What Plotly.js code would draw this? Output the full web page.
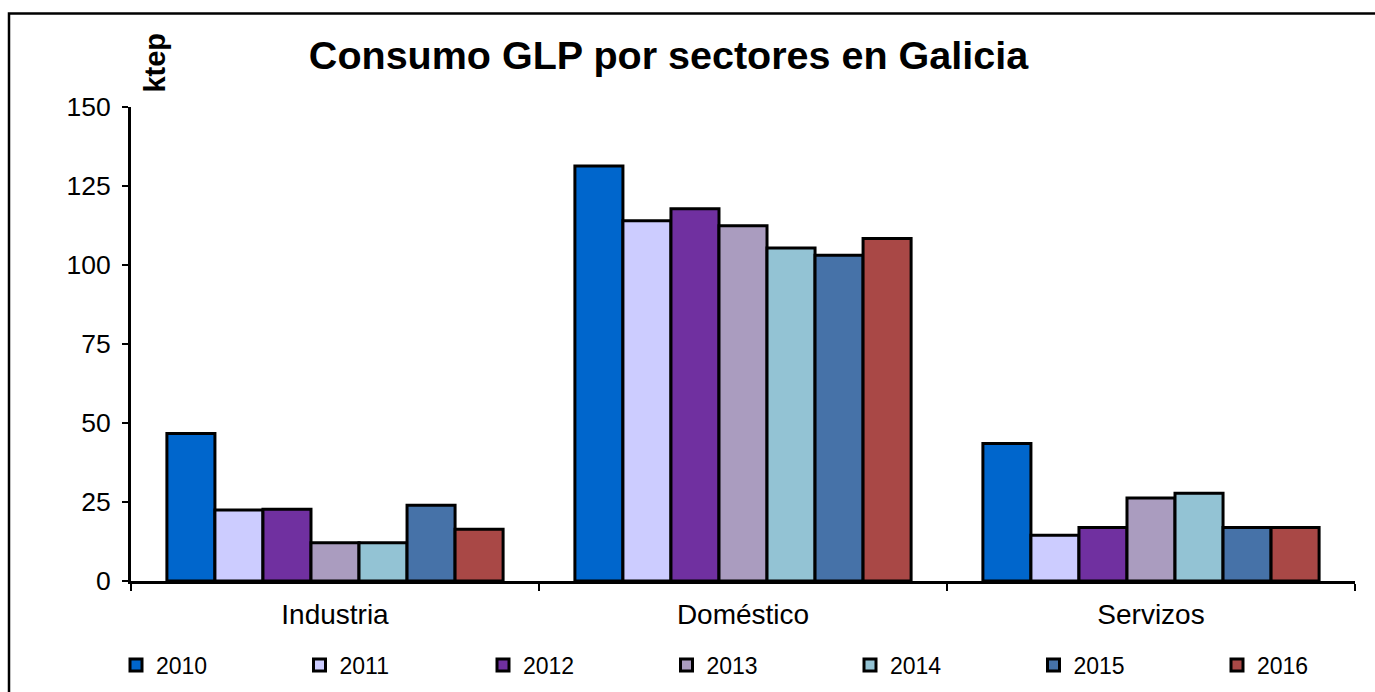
<!DOCTYPE html>
<html>
<head>
<meta charset="utf-8">
<script src="https://cdn.plot.ly/plotly-3.0.1.min.js"></script>
<style>
  html, body { margin: 0; padding: 0; background: #ffffff; }
  #chart { width: 1375px; height: 692px; }
</style>
</head>
<body>
<div id="chart"></div>
<script>
// ---- Data (ktep) ----
const categories = ['Industria', 'Doméstico', 'Servizos'];
const years = ['2010', '2011', '2012', '2013', '2014', '2015', '2016'];
const v2010 = [46.7, 131.3, 43.5];
const v2011 = [22.5, 114.0, 14.5];
const v2012 = [22.7, 117.8, 16.9];
const v2013 = [12.1, 112.4, 26.3];
const v2014 = [12.1, 105.4, 27.8];
const v2015 = [24.0, 103.1, 16.9];
const v2016 = [16.4, 108.4, 16.9];
const seriesValues = [v2010, v2011, v2012, v2013, v2014, v2015, v2016];
const yTicks = [0, 25, 50, 75, 100, 125, 150];

// ---- Styles ----
const colors = ['#0066CC', '#CCCCFF', '#7030A0', '#AA9CBF', '#93C3D4', '#4672A8', '#A94846'];
const FONT = 'Liberation Sans, Arial, Helvetica, sans-serif';

const traces = years.map((yr, i) => ({
  type: 'bar',
  name: yr,
  x: categories,
  y: seriesValues[i],
  marker: { color: colors[i], line: { color: '#000000', width: 3 } },
  legend: i === 0 ? 'legend' : 'legend' + (i + 1),
  hoverinfo: 'x+y+name'
}));

const W = 1375, H = 692;
const L = 131, R = 20, T = 106.5, B = 111;
const plotW = W - L - R, plotH = H - T - B;

const layout = {
  width: W,
  height: H,
  margin: { l: L, r: R, t: T, b: B, pad: 0 },
  paper_bgcolor: '#ffffff',
  plot_bgcolor: '#ffffff',
  font: { family: FONT, color: '#000000', size: 22 },
  barmode: 'group',
  bargap: 0.176,
  bargroupgap: 0,
  title: {
    text: '<b>Consumo GLP por sectores en Galicia</b>',
    font: { family: FONT, size: 39.5, color: '#000000' },
    x: 668.5 / W, xref: 'container', xanchor: 'center',
    y: 1 - 55 / H, yref: 'container', yanchor: 'middle'
  },
  xaxis: {
    type: 'category',
    showgrid: false,
    zeroline: false,
    showline: true,
    linecolor: '#000000',
    linewidth: 3,
    ticks: 'outside',
    tickson: 'boundaries',
    ticklen: 7,
    tickwidth: 2,
    tickcolor: '#000000',
    ticklabelstandoff: 6,
    tickfont: { family: FONT, size: 28, color: '#000000' },
    fixedrange: true
  },
  yaxis: {
    range: [0, 150],
    tickvals: yTicks,
    ticktext: yTicks.map(String),
    showgrid: false,
    zeroline: false,
    showline: true,
    linecolor: '#000000',
    linewidth: 3,
    ticks: 'outside',
    ticklen: 6,
    tickwidth: 2,
    tickcolor: '#000000',
    ticklabelstandoff: 6,
    tickfont: { family: FONT, size: 26.5, color: '#000000' },
    fixedrange: true
  },
  annotations: [{
    text: '<b>ktep</b>',
    textangle: -90,
    xref: 'paper', yref: 'paper',
    x: (155 - L) / plotW, y: (H - B - 62) / plotH,
    xanchor: 'center', yanchor: 'middle',
    showarrow: false,
    font: { family: FONT, size: 29, color: '#000000' }
  }],
  shapes: [{
    type: 'rect',
    xref: 'paper', yref: 'paper',
    x0: (9 - L) / plotW, x1: 1.2,
    y0: -0.6, y1: (H - B - 13) / plotH,
    line: { color: '#000000', width: 2.5 },
    fillcolor: 'rgba(0,0,0,0)',
    layer: 'above'
  }],
  showlegend: true
};

// One small legend per year, laid out in a row under the chart
years.forEach((yr, i) => {
  const key = i === 0 ? 'legend' : 'legend' + (i + 1);
  layout[key] = {
    orientation: 'h',
    xref: 'container', yref: 'container',
    x: (140 + 183.5 * i - 24) / W,
    y: 1 - 665 / H,
    xanchor: 'left', yanchor: 'middle',
    bgcolor: 'rgba(0,0,0,0)',
    borderwidth: 0,
    itemwidth: 30,
    font: { family: FONT, size: 23, color: '#000000' }
  };
});

Plotly.newPlot('chart', traces, layout, { displayModeBar: false, staticPlot: true });
</script>
</body>
</html>
